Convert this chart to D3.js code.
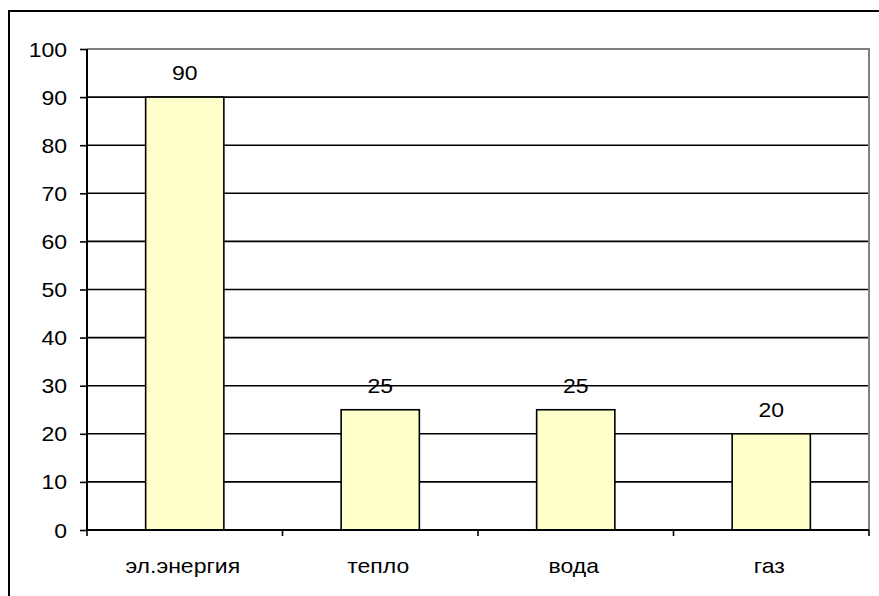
<!DOCTYPE html>
<html>
<head>
<meta charset="utf-8">
<script src="https://cdn.jsdelivr.net/npm/d3@7"></script>
<style>
html,body{margin:0;padding:0;background:#fff;overflow:hidden;}
text{font-family:"Liberation Sans",Arial,sans-serif;fill:#000;}
</style>
</head>
<body>
<svg id="chart" width="879" height="596"></svg>
<script>
const categories = ["эл.энергия", "тепло", "вода", "газ"];
const values = [90, 25, 25, 20];
const yTicks = [0, 10, 20, 30, 40, 50, 60, 70, 80, 90, 100];

const svg = d3.select("#chart");
const plot = {left: 87, right: 869, top: 49, bottom: 530};
const FS = 20, SX = 1.15;

// outer border (only top and left visible)
svg.append("rect").attr("x", 9).attr("y", 11).attr("width", 1000).attr("height", 1000)
  .attr("fill", "#fff").attr("stroke", "#000").attr("stroke-width", 2);

const x = d3.scaleBand().domain(categories).range([plot.left, plot.right])
  .paddingInner(0.6).paddingOuter(0.3);
const y = d3.scaleLinear().domain([0, 100]).range([plot.bottom, plot.top]);

// gridlines
svg.append("g").selectAll("line").data(yTicks.filter(d => d > 0 && d < 100)).join("line")
  .attr("x1", plot.left).attr("x2", plot.right)
  .attr("y1", d => y(d)).attr("y2", d => y(d))
  .attr("stroke", "#000").attr("stroke-width", 1.6);

// plot border top & right (gray)
svg.append("path")
  .attr("d", `M${plot.left},${y(100)}H${plot.right}V${y(0)}`)
  .attr("fill", "none").attr("stroke", "#808080").attr("stroke-width", 2);

// bars
svg.append("g").selectAll("rect").data(values).join("rect")
  .attr("x", (d, i) => x(categories[i]))
  .attr("y", d => y(d))
  .attr("width", x.bandwidth())
  .attr("height", d => y(0) - y(d))
  .attr("fill", "#FFFFCC").attr("stroke", "#000").attr("stroke-width", 1.6);

// y axis
const yAxis = d3.axisLeft(y).tickValues(yTicks).tickSize(7).tickPadding(0).tickFormat(d3.format("d"));
const gy = svg.append("g").attr("transform", `translate(${plot.left},0)`).call(yAxis);
gy.select(".domain").remove();
gy.selectAll(".tick line").attr("stroke", "#000").attr("stroke-width", 1.6);
gy.selectAll(".tick text").remove();
gy.selectAll(".tick").append("g")
  .attr("transform", `translate(-20,0) scale(${SX},1)`)
  .append("text").attr("text-anchor", "end").attr("dy", "0.35em")
  .attr("font-size", FS).text(d => d);
svg.append("line").attr("x1", plot.left).attr("x2", plot.left)
  .attr("y1", plot.top).attr("y2", plot.bottom)
  .attr("stroke", "#000").attr("stroke-width", 2);

// x axis
const bounds = d3.range(categories.length + 1).map(i => plot.left + i * x.step());
svg.append("g").selectAll("line").data(bounds).join("line")
  .attr("x1", d => d).attr("x2", d => d)
  .attr("y1", plot.bottom).attr("y2", plot.bottom + 6)
  .attr("stroke", "#000").attr("stroke-width", 1.6);
svg.append("line").attr("x1", plot.left).attr("x2", plot.right)
  .attr("y1", plot.bottom).attr("y2", plot.bottom)
  .attr("stroke", "#000").attr("stroke-width", 2);

// category labels
svg.append("g").selectAll("g").data(categories).join("g")
  .attr("transform", d => `translate(${x(d) + x.bandwidth() / 2 - 2},573) scale(${SX},1)`)
  .append("text").attr("text-anchor", "middle").attr("font-size", FS).text(d => d);

// value labels
svg.append("g").selectAll("g").data(values).join("g")
  .attr("transform", (d, i) => `translate(${x(categories[i]) + x.bandwidth() / 2},${y(d) - 17}) scale(${SX},1)`)
  .append("text").attr("text-anchor", "middle").attr("font-size", FS).text(d => d);
</script>
</body>
</html>
